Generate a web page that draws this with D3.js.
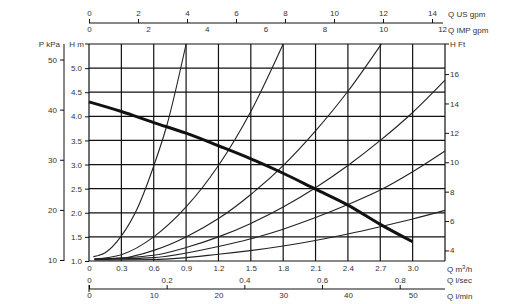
<!DOCTYPE html>
<html>
<head>
<meta charset="utf-8">
<script src="https://cdn.jsdelivr.net/npm/d3@7"></script>
<style>
    body { margin: 0; background: #fff; }
    svg text { font-family: "Liberation Sans", Arial, sans-serif; fill: #333; }
</style>
</head>
<body>
<div id="chart"></div>
<script>
// flow ticks (m3/h) and head ticks (m)
var flowTicks = [0, 0.3, 0.6, 0.9, 1.2, 1.5, 1.8, 2.1, 2.4, 2.7, 3.0];
var headTicks = [1.0, 1.5, 2.0, 2.5, 3.0, 3.5, 4.0, 4.5, 5.0];
var kpaTicks = [10, 20, 30, 40, 50];
var ftTicks = [4, 6, 8, 10, 12, 14, 16];
var usGpmTicks = [0, 2, 4, 6, 8, 10, 12, 14];
var impGpmTicks = [0, 2, 4, 6, 8, 10, 12];
var lsecTicks = [0, 0.2, 0.4, 0.6, 0.8];
var lminTicks = [0, 10, 20, 30, 40, 50];

// pump curve [Q m3/h, H m]
var pumpCurve = [[0, 4.30], [0.3, 4.10], [0.6, 3.87], [0.9, 3.65], [1.2, 3.39], [1.5, 3.12],
    [1.8, 2.82], [2.1, 2.49], [2.4, 2.16], [2.7, 1.76], [3.0, 1.40]];

// system curves
var curveA = [[0.04, 1.09], [0.15, 1.17], [0.3, 1.52], [0.45, 2.1], [0.6, 2.97], [0.72, 3.8], [0.9, 5.5]];
var curveB = [[0.05, 1.04], [0.3, 1.13], [0.6, 1.5], [0.9, 2.12], [1.2, 2.98], [1.5, 4.1], [1.8, 5.5]];
var curveC = [[0.05, 1.04], [0.3, 1.06], [0.6, 1.22], [0.9, 1.5], [1.2, 1.88], [1.5, 2.38], [1.8, 2.98],
    [2.1, 3.7], [2.4, 4.52], [2.71, 5.5]];
var curveD = [[0.05, 1.04], [0.6, 1.12], [0.9, 1.28], [1.2, 1.5], [1.5, 1.78], [1.8, 2.12], [2.1, 2.52],
    [2.4, 2.98], [2.7, 3.5], [3.0, 4.08], [3.3, 4.75]];
var curveE = [[0.05, 1.03], [0.6, 1.07], [1.2, 1.3], [1.5, 1.46], [1.8, 1.66], [2.1, 1.9], [2.4, 2.17],
    [2.7, 2.47], [3.0, 2.85], [3.3, 3.28]];
var curveF = [[0.05, 1.02], [0.6, 1.03], [1.2, 1.14], [1.8, 1.31], [2.4, 1.56], [2.7, 1.71], [3.0, 1.87],
    [3.3, 2.05]];
var systemCurves = [curveA, curveB, curveC, curveD, curveE, curveF];

function drawChart() {
    var svg = d3.select("#chart")
        .append("svg")
        .attr("width", 526)
        .attr("height", 304);

    var x = d3.scaleLinear().domain([0, 3.3]).range([89, 445]);
    var y = d3.scaleLinear().domain([1, 5.5]).range([261, 44]);
    var yKpa = d3.scaleLinear().domain([10, 50]).range([260, 59.5]);

    // grid
    var gridX = flowTicks.concat([3.3]);
    var gridY = headTicks.concat([5.5]);

    svg.selectAll("line.gx")
        .data(gridX)
        .enter()
        .append("line")
        .attr("class", "gx")
        .attr("x1", function(d){ return x(d); })
        .attr("x2", function(d){ return x(d); })
        .attr("y1", y(5.5))
        .attr("y2", y(1))
        .style("stroke", "#111")
        .style("stroke-width", 1.2);

    svg.selectAll("line.gy")
        .data(gridY)
        .enter()
        .append("line")
        .attr("class", "gy")
        .attr("x1", x(0))
        .attr("x2", x(3.3))
        .attr("y1", function(d){ return y(d); })
        .attr("y2", function(d){ return y(d); })
        .style("stroke", "#111")
        .style("stroke-width", 1.2);

    // curves
    var line = d3.line()
        .x(function(d){ return x(d[0]); })
        .y(function(d){ return y(d[1]); })
        .curve(d3.curveMonotoneX);

    svg.selectAll("path.sys")
        .data(systemCurves)
        .enter()
        .append("path")
        .attr("class", "sys")
        .attr("d", line)
        .style("fill", "none")
        .style("stroke", "#222")
        .style("stroke-width", 1.1);

    svg.append("path")
        .datum(pumpCurve)
        .attr("d", line)
        .style("fill", "none")
        .style("stroke", "#111")
        .style("stroke-width", 3);

    // left H m axis
    var axH = svg.append("g")
        .attr("transform", "translate(" + x(0) + ",0)")
        .call(d3.axisLeft(y).tickValues(headTicks).tickFormat(d3.format(".1f")).tickSize(4).tickSizeOuter(0));
    axH.select(".domain").remove();

    // P kPa axis
    var axP = svg.append("g")
        .attr("transform", "translate(64,0)")
        .call(d3.axisLeft(yKpa).tickValues(kpaTicks).tickSize(4).tickSizeOuter(0));
    axP.select(".domain").remove();
    svg.append("line")
        .attr("x1", 64).attr("x2", 64)
        .attr("y1", y(5.5)).attr("y2", y(1))
        .style("stroke", "#111");

    // right H Ft axis
    var axFt = svg.append("g")
        .attr("transform", "translate(" + x(3.3) + ",0)")
        .call(d3.axisRight(y).tickValues(ftTicks.map(function(d){ return d / 3.281; }))
            .tickFormat(function(d){ return Math.round(d * 3.281); })
            .tickSize(4).tickPadding(1).tickSizeOuter(0));
    axFt.select(".domain").remove();

    // top flow axes
    var axUs = svg.append("g")
        .attr("transform", "translate(0,23)")
        .call(d3.axisTop(x).tickValues(usGpmTicks.map(function(d){ return d / 4.403; }))
            .tickFormat(function(d){ return Math.round(d * 4.403); })
            .tickSize(4).tickSizeOuter(0));
    axUs.select(".domain").remove();
    svg.append("line")
        .attr("x1", x(0)).attr("x2", 443)
        .attr("y1", 23).attr("y2", 23)
        .style("stroke", "#111");

    var axImp = svg.append("g")
        .attr("transform", "translate(0,23)")
        .call(d3.axisBottom(x).tickValues(impGpmTicks.map(function(d){ return d / 3.666; }))
            .tickFormat(function(d){ return Math.round(d * 3.666); })
            .tickSize(0).tickPadding(3));
    axImp.select(".domain").remove();

    // bottom axes
    var axQ = svg.append("g")
        .attr("transform", "translate(0," + y(1) + ")")
        .call(d3.axisBottom(x).tickValues(flowTicks)
            .tickFormat(function(d){ return d === 0 ? "0" : d3.format(".1f")(d); })
            .tickSize(0).tickPadding(4));
    axQ.select(".domain").remove();

    var axLs = svg.append("g")
        .attr("transform", "translate(0,289)")
        .call(d3.axisTop(x).tickValues(lsecTicks.map(function(d){ return d * 3.6; }))
            .tickFormat(function(d){ return d === 0 ? "0" : d3.format(".1f")(d / 3.6); })
            .tickSize(4).tickPadding(2).tickSizeOuter(0));
    axLs.select(".domain").remove();

    var axLm = svg.append("g")
        .attr("transform", "translate(0,289)")
        .call(d3.axisBottom(x).tickValues(lminTicks.map(function(d){ return d * 0.06; }))
            .tickFormat(function(d){ return Math.round(d / 0.06); })
            .tickSize(0).tickPadding(3));
    axLm.select(".domain").remove();
    svg.append("line")
        .attr("x1", x(0)).attr("x2", x(3.3))
        .attr("y1", 289).attr("y2", 289)
        .style("stroke", "#111");
    svg.append("line")
        .attr("x1", x(0)).attr("x2", x(0))
        .attr("y1", 285).attr("y2", 292)
        .style("stroke", "#111");

    svg.selectAll(".tick line").style("stroke", "#111");
    svg.selectAll(".tick text").attr("font-size", "8px").style("font-family", "'Liberation Sans', Arial, sans-serif").style("fill", "#333");

    // axis titles
    var labels = [
        {t: "P kPa", x: 60, y: 47, a: "end"},
        {t: "H m", x: 84, y: 47, a: "end"},
        {t: "H Ft", x: 450, y: 47, a: "start"},
        {t: "Q US gpm", x: 448, y: 17, a: "start"},
        {t: "Q IMP gpm", x: 448, y: 33, a: "start"},
        {t: "Q l/sec", x: 447, y: 283, a: "start"},
        {t: "Q l/min", x: 447, y: 299, a: "start"}
    ];
    svg.selectAll("text.lbl")
        .data(labels)
        .enter()
        .append("text")
        .attr("class", "lbl")
        .attr("x", function(d){ return d.x; })
        .attr("y", function(d){ return d.y; })
        .attr("text-anchor", function(d){ return d.a; })
        .attr("font-size", "8px")
        .text(function(d){ return d.t; });

    var qLabel = svg.append("text")
        .attr("x", 447)
        .attr("y", 272)
        .attr("font-size", "8px");
    qLabel.append("tspan").text("Q m");
    qLabel.append("tspan").attr("dy", -3).attr("font-size", "6px").text("3");
    qLabel.append("tspan").attr("dy", 3).text("/h");

    // small marks at top left / top right
    svg.append("line")
        .attr("x1", 85).attr("x2", 89).attr("y1", 44).attr("y2", 44)
        .style("stroke", "#111");
    svg.append("line")
        .attr("x1", 445).attr("x2", 449).attr("y1", 44).attr("y2", 44)
        .style("stroke", "#111");
}

drawChart();
</script>
</body>
</html>
